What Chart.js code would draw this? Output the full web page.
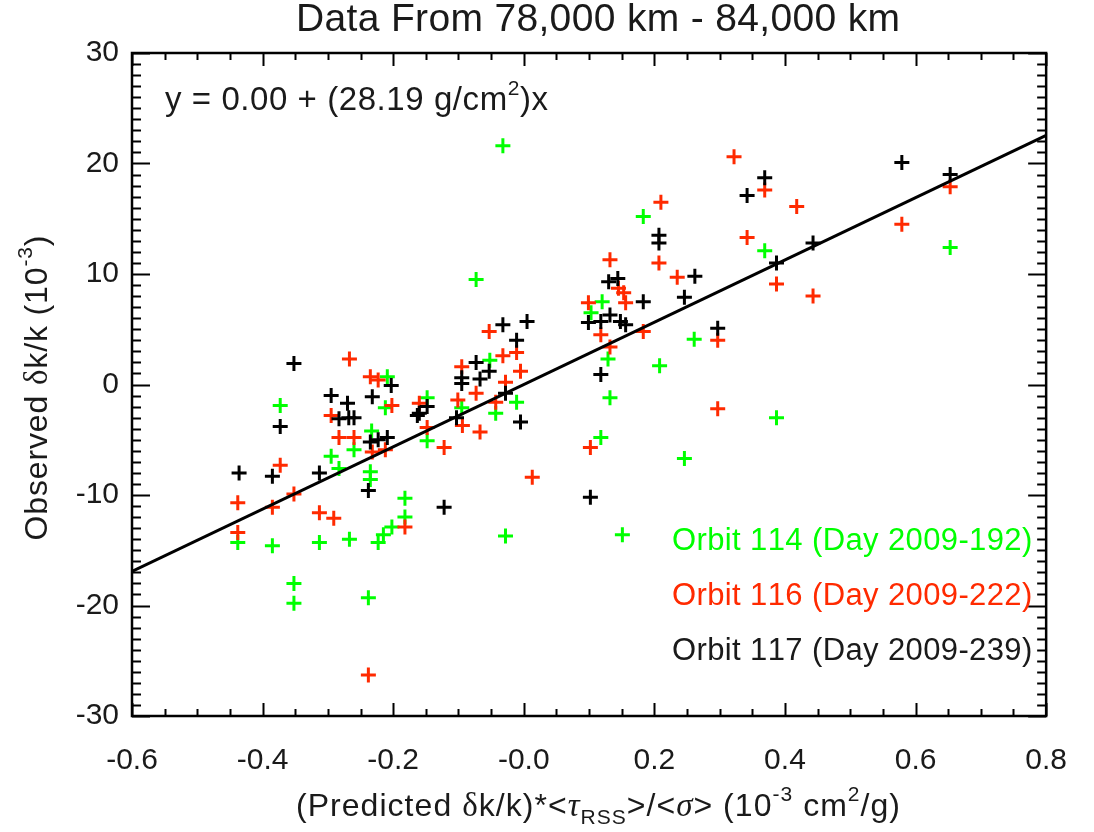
<!DOCTYPE html>
<html>
<head>
<meta charset="utf-8">
<script src="https://cdn.jsdelivr.net/npm/chart.js@4.4.1/dist/chart.umd.min.js"></script>
<style>
  html, body { margin: 0; padding: 0; background: #fff; }
  #wrap { width: 1094px; height: 832px; }
</style>
</head>
<body>
<div id="wrap"><canvas id="fitChart" width="1094" height="832"></canvas></div>
<script>
// Orbit 114 (Day 2009-192) - green
const orbit114X = [-0.032, -0.073, 0.183, 0.369, 0.653, 0.261, 0.208, 0.246, 0.151, -0.028,
                   0.118, 0.132, 0.129, 0.103, 0.120, 0.387, -0.052, -0.011, -0.095, -0.043,
                   -0.148, -0.148, -0.209, -0.373, -0.212, -0.233, -0.260, -0.295, -0.283, -0.235,
                   -0.235, -0.182, -0.182, -0.438, -0.385, -0.313, -0.267, -0.223, -0.215, -0.202,
                   -0.352, -0.352, -0.238];
const orbit114Y = [21.6, 9.5, 15.2, 12.1, 12.4, 4.1, 1.7, -6.7, -13.6, -13.7,
                   -4.8, -1.2, 2.3, 6.5, 7.5, -3.0, 2.2, -1.6, -2.1, -2.6,
                   -1.2, -5.1, 0.7, -1.9, -2.1, -4.2, -5.9, -6.5, -7.6, -7.9,
                   -8.6, -10.3, -12.0, -14.3, -14.6, -14.3, -14.0, -14.3, -13.6, -12.9,
                   -18.0, -19.8, -19.3];

// Orbit 116 (Day 2009-222) - red
const orbit116X = [-0.438, -0.385, -0.352, -0.313, -0.291, -0.438, -0.267, -0.235, -0.223, -0.295,
                   -0.202, -0.160, -0.283, -0.260, -0.232, -0.212, -0.373, -0.182, -0.238, -0.148,
                   -0.122, -0.101, -0.094, -0.067, -0.073, -0.043, -0.095, -0.053, -0.011, -0.032,
                   -0.005, -0.028, 0.013, 0.102, 0.132, 0.118, 0.183, 0.099, 0.156, 0.145,
                   0.153, 0.132, 0.207, 0.210, 0.235, 0.297, 0.297, 0.322, 0.369, 0.418,
                   0.342, 0.387, 0.443, 0.579, 0.653];
const orbit116Y = [-10.7, -11.1, -9.9, -11.6, -12.1, -13.4, 2.3, 0.7, 0.4, -2.8,
                   -1.9, -1.7, -4.8, -4.8, -6.1, -5.9, -7.3, -12.9, -26.3, -3.9,
                   -5.7, -1.4, -3.7, -4.3, -0.8, -1.6, 1.6, 4.8, 2.9, 2.6,
                   1.2, 0.2, -8.4, -5.7, 3.4, 4.5, 4.8, 7.4, 7.4, 8.7,
                   8.3, 11.3, 11.0, 16.5, 9.7, 4.0, -2.2, 20.6, 17.6, 16.1,
                   13.3, 9.1, 8.0, 14.5, 17.9];

// Orbit 117 (Day 2009-239) - black
const orbit117X = [-0.436, -0.385, -0.313, -0.352, -0.373, -0.295, -0.270, -0.232, -0.283, -0.268,
                   -0.260, -0.203, -0.163, -0.235, -0.223, -0.209, -0.238, -0.148, -0.160, -0.103,
                   -0.095, -0.095, -0.067, -0.073, -0.053, -0.032, 0.005, -0.011, -0.028, -0.005,
                   -0.122, 0.102, 0.118, 0.099, 0.118, 0.148, 0.156, 0.132, 0.183, 0.246,
                   0.130, 0.144, 0.262, 0.207, 0.207, 0.297, 0.369, 0.342, 0.387, 0.443,
                   0.579, 0.653];
const orbit117Y = [-8.0, -8.3, -8.0, 1.9, -3.8, -1.0, -1.7, -1.1, -3.1, -3.0,
                   -3.0, -0.1, -2.8, -5.2, -5.0, -4.8, -9.6, -2.0, -2.6, -3.0,
                   0.6, 0.1, 0.5, 2.0, 1.2, 5.4, 5.7, 4.0, -0.8, -3.4,
                   -11.1, -10.2, 0.9, 5.6, 5.7, 5.7, 5.4, 6.3, 7.5, 7.9,
                   9.3, 9.6, 9.8, 13.5, 12.8, 5.1, 18.7, 17.1, 11.0, 12.8,
                   20.1, 19.0];

// fitted line y = 0.00 + 28.19 x, end points at the axis limits
const fitX = [-0.6, 0.8];
const fitY = [-16.91, 22.55];

const xTickLabels = ['-0.6', '-0.4', '-0.2', '-0.0', '0.2', '0.4', '0.6', '0.8'];
const yTickLabels = ['-30', '-20', '-10', '0', '10', '20', '30'];

const legendLabels = ['Orbit 114 (Day 2009-192)', 'Orbit 116 (Day 2009-222)', 'Orbit 117 (Day 2009-239)'];

const GREEN = '#00ff00';
const RED = '#ff2a00';
const BLACK = '#000000';
const FONT = '"Liberation Sans", Arial, Helvetica, sans-serif';
const GREEK = '"Liberation Serif", "DejaVu Serif", serif';

function toPoints(xs, ys) {
    return xs.map((x, i) => ({ x: x, y: ys[i] }));
}

// draw a run of text pieces (super/subscripts, greek); spread to a target width
function drawRich(ctx, parts, x, y, align, targetWidth) {
    let total = 0, nChars = 0;
    parts.forEach(p => {
        ctx.font = p.font;
        p.w = ctx.measureText(p.t).width;
        total += p.w;
        nChars += p.t.length;
    });
    let extra = 0;
    if (targetWidth && nChars > 1) extra = (targetWidth - total) / (nChars - 1);
    const width = total + extra * (nChars - 1);
    let cx = x;
    if (align === 'center') cx = x - width / 2;
    if (align === 'right') cx = x - width;
    ctx.textAlign = 'left';
    ctx.textBaseline = 'alphabetic';
    parts.forEach(p => {
        ctx.font = p.font;
        for (const ch of p.t) {
            ctx.fillText(ch, cx, y + (p.dy || 0));
            cx += ctx.measureText(ch).width + extra;
        }
    });
}

const frameAndText = {
    id: 'frameAndText',
    afterDatasetsDraw(chart) {
        const ctx = chart.ctx;
        const xs = chart.scales.x, ys = chart.scales.y;
        const { left, right, top, bottom } = chart.chartArea;
        ctx.save();
        ctx.strokeStyle = '#000';
        ctx.lineWidth = 2;
        ctx.beginPath();
        // x ticks (major every 0.2, minor every 0.05), pointing inward top and bottom
        for (let i = 0; i <= 28; i++) {
            const px = Math.round(xs.getPixelForValue(-0.6 + i * 0.05)) + 0.5;
            const len = (i % 4 === 0) ? 13 : 7;
            ctx.moveTo(px, bottom); ctx.lineTo(px, bottom - len);
            ctx.moveTo(px, top); ctx.lineTo(px, top + len);
        }
        // y ticks (major every 10, minor every 1), left and right
        for (let v = -30; v <= 30; v++) {
            const py = Math.round(ys.getPixelForValue(v)) + 0.5;
            const len = (v % 10 === 0) ? 18 : 9;
            ctx.moveTo(left, py); ctx.lineTo(left + len, py);
            ctx.moveTo(right, py); ctx.lineTo(right - len, py);
        }
        ctx.stroke();
        ctx.lineWidth = 2.5;
        ctx.strokeRect(left, top, right - left, bottom - top);
        ctx.restore();
    },
    afterDraw(chart) {
        const ctx = chart.ctx;
        ctx.save();
        ctx.fillStyle = '#1a1a1a';

        // title
        drawRich(ctx, [{ t: 'Data From 78,000 km - 84,000 km', font: '39px ' + FONT }], 598, 31, 'center', 604);

        // fit annotation
        drawRich(ctx, [
            { t: 'y = 0.00 + (28.19 g/cm', font: '33px ' + FONT },
            { t: '2', font: '21px ' + FONT, dy: -15 },
            { t: ')x', font: '33px ' + FONT }
        ], 165, 110, 'left', 383);

        // x axis title
        drawRich(ctx, [
            { t: '(Predicted ', font: '32px ' + FONT },
            { t: 'δ', font: '33px ' + GREEK },
            { t: 'k/k)*<', font: '32px ' + FONT },
            { t: 'τ', font: 'italic 33px ' + GREEK },
            { t: 'RSS', font: '21px ' + FONT, dy: 8 },
            { t: '>/<', font: '32px ' + FONT },
            { t: 'σ', font: 'italic 33px ' + GREEK },
            { t: '> (10', font: '32px ' + FONT },
            { t: '-3', font: '21px ' + FONT, dy: -15 },
            { t: ' cm', font: '32px ' + FONT },
            { t: '2', font: '21px ' + FONT, dy: -15 },
            { t: '/g)', font: '32px ' + FONT }
        ], 598, 816, 'center', 604);

        // y axis title
        ctx.save();
        ctx.translate(47, 388);
        ctx.rotate(-Math.PI / 2);
        drawRich(ctx, [
            { t: 'Observed ', font: '32px ' + FONT },
            { t: 'δ', font: '33px ' + GREEK },
            { t: 'k/k (10', font: '32px ' + FONT },
            { t: '-3', font: '21px ' + FONT, dy: -15 },
            { t: ')', font: '32px ' + FONT }
        ], 0, 0, 'center', 305);
        ctx.restore();

        // legend text
        const legendColors = [GREEN, RED, '#1a1a1a'];
        const legendY = [550, 605, 660];
        legendLabels.forEach((lab, i) => {
            ctx.fillStyle = legendColors[i];
            drawRich(ctx, [{ t: lab, font: '31px ' + FONT }], 1030, legendY[i], 'right', 358);
        });
        ctx.restore();
    }
};

function crossSet(label, xs, ys, color) {
    return {
        type: 'scatter',
        label: label,
        data: toPoints(xs, ys),
        pointStyle: 'cross',
        pointRadius: 7.5,
        pointBorderWidth: 3,
        borderColor: color,
        backgroundColor: color,
        pointHoverRadius: 7.5
    };
}

const ctx = document.getElementById('fitChart').getContext('2d');
new Chart(ctx, {
    data: {
        datasets: [
            {
                type: 'line',
                label: 'Fit',
                data: toPoints(fitX, fitY),
                borderColor: '#000',
                borderWidth: 3,
                pointRadius: 0,
                fill: false,
                tension: 0
            },
            crossSet(legendLabels[2], orbit117X, orbit117Y, BLACK),
            crossSet(legendLabels[1], orbit116X, orbit116Y, RED),
            crossSet(legendLabels[0], orbit114X, orbit114Y, GREEN)
        ]
    },
    options: {
        responsive: false,
        animation: false,
        devicePixelRatio: 1,
        layout: { padding: { left: 0, top: 53, right: 30, bottom: 0 } },
        plugins: {
            legend: { display: false },
            tooltip: { enabled: false },
            title: { display: false }
        },
        scales: {
            x: {
                type: 'linear',
                min: -0.6,
                max: 0.8,
                grid: { display: false, drawTicks: false },
                border: { display: false },
                ticks: {
                    stepSize: 0.2,
                    padding: 27,
                    color: '#1a1a1a',
                    font: { family: FONT, size: 30 },
                    maxRotation: 0,
                    autoSkip: false,
                    callback: (v, i) => xTickLabels[i]
                },
                afterFit: (scale) => { scale.height = 116; }
            },
            y: {
                type: 'linear',
                min: -30,
                max: 30,
                grid: { display: false, drawTicks: false },
                border: { display: false },
                ticks: {
                    stepSize: 10,
                    padding: 13,
                    color: '#1a1a1a',
                    font: { family: FONT, size: 30 },
                    callback: (v, i) => yTickLabels[i]
                },
                afterFit: (scale) => { scale.width = 132; }
            }
        }
    },
    plugins: [frameAndText]
});
</script>
</body>
</html>
